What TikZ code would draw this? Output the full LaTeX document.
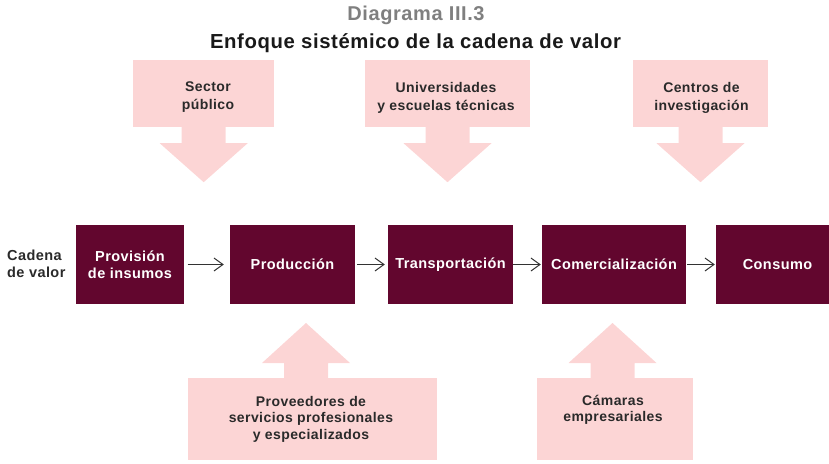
\documentclass[tikz,border=0pt]{standalone}
\usepackage{fontspec}
\setmainfont{Liberation Sans}[LetterSpace=3]
\usetikzlibrary{arrows.meta,calc}
\definecolor{chainred}{HTML}{62062E}
\definecolor{pinkfill}{HTML}{FCD5D5}
\definecolor{pinktext}{HTML}{2A2A2A}
\definecolor{titlegray}{HTML}{7F7F7F}
\definecolor{arrowgray}{HTML}{333333}
\tikzset{
  chainbox/.style={fill=chainred, text=white, font=\bfseries\fontsize{14.5}{17}\selectfont, align=center, minimum height=79pt, inner sep=0pt},
  pinkrect/.style={fill=pinkfill, inner sep=0pt},
  pinklabel/.style={text=pinktext, align=center, inner sep=0pt},
  toptext/.style={pinklabel, font=\bfseries\fontsize{14}{18}\selectfont},
  bottext/.style={pinklabel, font=\bfseries\fontsize{14}{16.3}\selectfont},
  chainarrow/.style={draw=arrowgray, line width=1pt, -{Straight Barb[length=9pt,width=13pt]}},
  pinkshape/.style={fill=pinkfill}
}
\begin{document}
\begin{tikzpicture}[x=1pt,y=-1pt]
\useasboundingbox (0,0) rectangle (829,463);
% title
\node[anchor=base, inner sep=0pt, text=titlegray, font=\bfseries\fontsize{20}{24}\selectfont] (t1) at (416,20) {Diagrama III.3};
\node[anchor=base, inner sep=0pt, text=black!90, font=\bfseries\fontsize{20.3}{24}\selectfont] (t2) at (415.5,48) {Enfoque sistémico de la cadena de valor};
% top pink arrows
\node[pinkrect, minimum width=141pt, minimum height=67pt] (sp) at (203.7,93.5) {};
\fill[pinkshape] ($(sp.south)+(-22,-1)$) -- ++(0,17) -- ++(-22,0) -- ($(sp.south)+(0,55)$) -- ($(sp.south)+(44,16)$) -- ++(-22,0) -- ($(sp.south)+(22,-1)$) -- cycle;
\node[toptext] (spt) at (208,97.5) {Sector\\público};
\node[pinkrect, minimum width=165pt, minimum height=67pt] (un) at (447.5,93.5) {};
\fill[pinkshape] ($(un.south)+(-22,-1)$) -- ++(0,17) -- ++(-22,0) -- ($(un.south)+(0,55)$) -- ($(un.south)+(44,16)$) -- ++(-22,0) -- ($(un.south)+(22,-1)$) -- cycle;
\node[toptext] (unt) at (446,97.5) {Universidades\\y escuelas técnicas};
\node[pinkrect, minimum width=135pt, minimum height=67pt] (ce) at (700.5,93.5) {};
\fill[pinkshape] ($(ce.south)+(-22,-1)$) -- ++(0,17) -- ++(-22,0) -- ($(ce.south)+(0,55)$) -- ($(ce.south)+(44,16)$) -- ++(-22,0) -- ($(ce.south)+(22,-1)$) -- cycle;
\node[toptext] (cet) at (701.5,97.5) {Centros de\\investigación};
% value chain
\node[anchor=west, align=left, inner sep=0pt, text=pinktext, font=\bfseries\fontsize{14.5}{17}\selectfont] (cad) at (7,263.5) {Cadena\\de valor};
\node[chainbox, minimum width=108pt] (prov) at (130,264.5) {Provisión\\de insumos};
\node[chainbox, minimum width=125pt] (prod) at (292.5,264.5) {Producción};
\node[chainbox, minimum width=125pt] (trans) at (450.5,264.5) {Transportación};
\node[chainbox, minimum width=144pt] (com) at (614,264.5) {Comercialización};
\node[chainbox, minimum width=113pt] (cons) at (772.5,264.5) {\hspace*{10pt}Consumo};
\draw[chainarrow, shorten <=3.5pt, shorten >=6pt] (prov) -- (prod);
\draw[chainarrow, shorten <=2pt, shorten >=3pt] (prod) -- (trans);
\draw[chainarrow, shorten >=1pt] (trans) -- (com);
\draw[chainarrow, shorten <=1pt, shorten >=1pt] (com) -- (cons);
% bottom pink arrows
\node[pinkrect, minimum width=249pt, minimum height=82pt] (pv) at (312.5,419) {};
\coordinate (pva) at (306,378);
\fill[pinkshape] ($(pva)+(-22,1)$) -- ++(0,-16) -- ++(-22,0) -- ($(pva)+(0,-55)$) -- ($(pva)+(44,-15)$) -- ++(-22,0) -- ($(pva)+(22,1)$) -- cycle;
\node[bottext] (pvt) at (311,419.2) {Proveedores de\\servicios profesionales\\y especializados};
\node[pinkrect, minimum width=156pt, minimum height=82pt] (cm) at (615,419) {};
\coordinate (cma) at (612.5,378);
\fill[pinkshape] ($(cma)+(-22,1)$) -- ++(0,-16) -- ++(-22,0) -- ($(cma)+(0,-55)$) -- ($(cma)+(44,-15)$) -- ++(-22,0) -- ($(cma)+(22,1)$) -- cycle;
\node[bottext] (cmt) at (613,409.6) {Cámaras\\empresariales};
\end{tikzpicture}
\end{document}
